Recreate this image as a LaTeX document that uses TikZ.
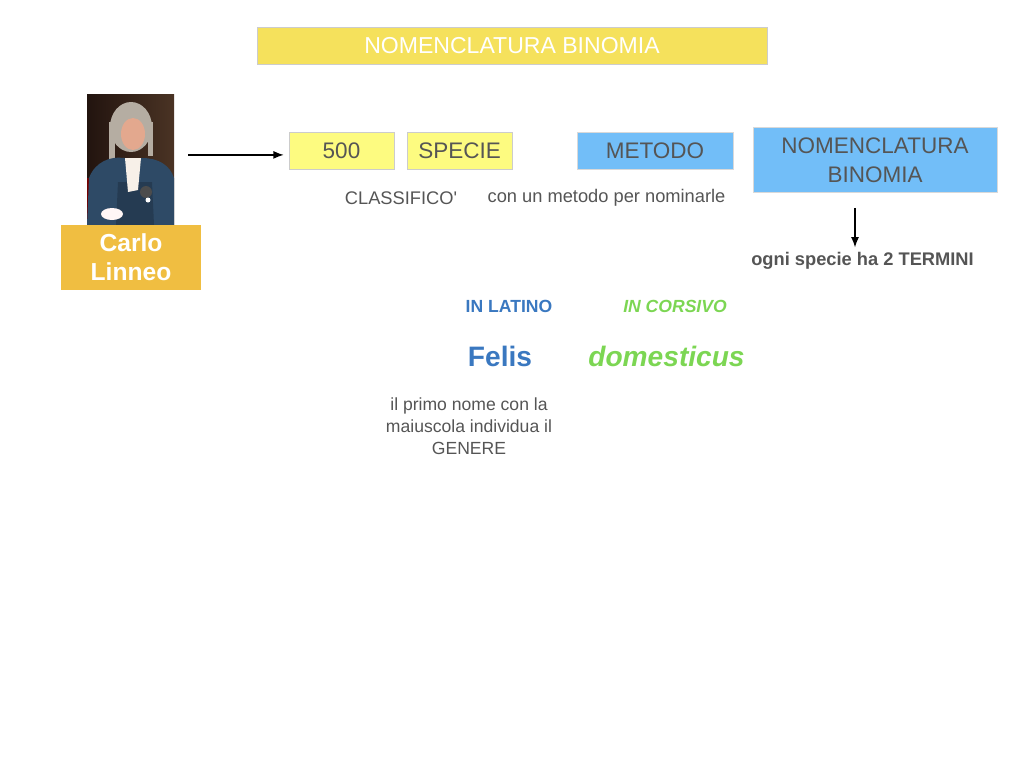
\documentclass[tikz,border=0pt]{standalone}
\usepackage{fontspec}
\setmainfont{Liberation Sans}
\usetikzlibrary{arrows.meta}

\definecolor{titleyellow}{HTML}{F5E15C}
\definecolor{paleyellow}{HTML}{FDFB80}
\definecolor{boxblue}{HTML}{72BEF8}
\definecolor{linneo}{HTML}{F0BE41}
\definecolor{txtgray}{HTML}{555555}
\definecolor{latinblue}{HTML}{3A78C0}
\definecolor{corsgreen}{HTML}{7CD653}
\definecolor{coatblue}{HTML}{2E4A66}
\definecolor{bgdark}{HTML}{22140F}
\definecolor{bglight}{HTML}{4A3324}
\definecolor{wig}{HTML}{B5ADA2}
\definecolor{skin}{HTML}{E3A88E}

\newcommand{\fs}[2]{\fontsize{#1}{#2}\selectfont}

\begin{document}
\begin{tikzpicture}[x=0.25mm,y=-0.25mm,
    titlebox/.style={fill=titleyellow,draw=black!20,line width=0.6pt,text=white,
      minimum width=127.5mm,minimum height=9.25mm,font=\fs{16.4}{20}},
    yellowbox/.style={fill=paleyellow,draw=black!20,line width=0.6pt,text=txtgray,
      minimum width=26.25mm,minimum height=9.25mm,font=\fs{16}{20}},
    bluebox/.style={fill=boxblue,draw=black!15,line width=0.6pt,text=txtgray,
      align=center,font=\fs{16}{20.6}},
    note/.style={text=txtgray,align=center,font=\fs{13}{15.6}},
    arrow/.style={-{Latex[length=2.6mm,width=2mm]},line width=1pt},
  ]
  \useasboundingbox (0,0) rectangle (1024,768);

  % title
  \node[titlebox] (title) at (512,45.5) {NOMENCLATURA BINOMIA};

  % portrait of Linnaeus
  \node[minimum width=21.75mm,minimum height=32.75mm,inner sep=0pt,
    left color=bgdark,right color=bglight] (portrait) at (130.5,159.5) {};
  \begin{scope}
    \clip (portrait.north west) rectangle (portrait.south east);
    \fill[red!45!black] (87,178) rectangle (100,225);
    \fill[wig] (131,127) ellipse [x radius=21,y radius=25];
    \fill[wig] (109,122) rectangle (115,160);
    \fill[wig] (148,122) rectangle (153,156);
    \fill[coatblue] (87,225) -- (89,178) .. controls (95,162) and (110,156) .. (124,158)
      -- (142,158) .. controls (158,158) and (170,165) .. (174,178) -- (174,225) -- cycle;
    \fill[coatblue!80!black] (118,182) -- (152,182) -- (154,225) -- (116,225) -- cycle;
    \fill[skin] (133,134) ellipse [x radius=12,y radius=16];
    \fill[white!88!brown] (125,158) -- (141,158) -- (138,190) -- (128,192) -- cycle;
    \fill[white!85!pink] (112,214) ellipse [x radius=11,y radius=6];
    \fill[black!70] (146,192) circle [radius=6];
    \fill[white] (148,200) circle [radius=2.5];
  \end{scope}
  \node[fill=linneo,text=white,align=center,minimum width=35mm,minimum height=16.25mm,
    font=\bfseries\fs{17.5}{20.6}] (carlo) at (131,257.5) {Carlo\\Linneo};

  % boxes of the first row
  \node[yellowbox] (n500) at (341.5,150.5) {500};
  \node[yellowbox] (specie) at (459.5,150.5) {SPECIE};
  \node[bluebox,minimum width=39mm,minimum height=9.25mm] (metodo) at (655,150.5) {METODO};
  \node[bluebox,minimum width=61mm,minimum height=16.25mm] (nombin) at (875,160) {NOMENCLATURA\\BINOMIA};

  \node[note] (classifico) at (401,198) {CLASSIFICO\textquotesingle};
  \node[note] (nominarle) at (606.5,198) {con un metodo per nominarle};
  \node[note,font=\bfseries\fs{13}{15.6}] (termini) at (862.5,261) {ogni specie ha 2 TERMINI};

  % latin name
  \node[text=latinblue,font=\bfseries\fs{12.5}{15}] (latino) at (509,306) {IN LATINO};
  \node[text=corsgreen,font=\bfseries\itshape\fs{12.5}{15}] (corsivo) at (675,306) {IN CORSIVO};
  \node[text=latinblue,font=\bfseries\fs{20}{24}] (felis) at (500,356) {Felis};
  \node[text=corsgreen,font=\bfseries\itshape\fs{20}{24}] (domesticus) at (666.5,356) {domesticus};
  \node[note,font=\fs{12.5}{15.6}] (genere) at (469,426)
    {il primo nome con la\\maiuscola individua il\\GENERE};

  \draw[arrow,shorten <=3.5mm,shorten >=1.2mm]
    ([yshift=-1.1mm]n500.west -| portrait.east) -- ([yshift=-1.1mm]n500.west);
  \draw[arrow,shorten <=3.75mm]
    ([xshift=-5mm]nombin.south) -- ([xshift=-5mm]nombin.south |- termini.north);
\end{tikzpicture}
\end{document}
